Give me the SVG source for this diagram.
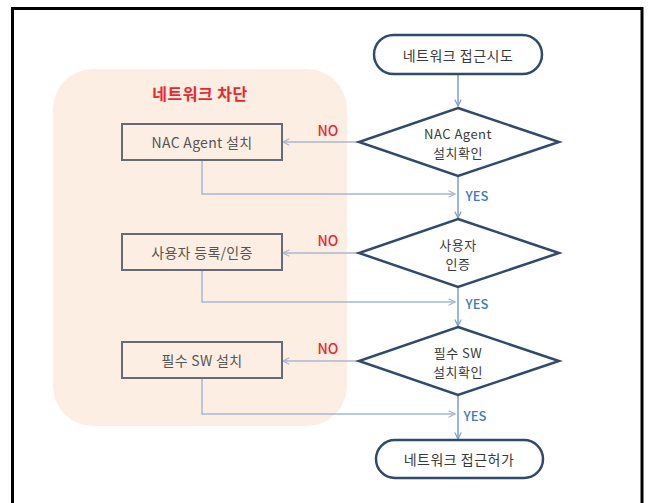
<svg xmlns="http://www.w3.org/2000/svg" width="649" height="503" viewBox="0 0 649 503">
<style>
.t{font-family:"Noto Sans CJK KR","Noto Sans",sans-serif;text-anchor:middle;dominant-baseline:central}
.term{fill:#fff;stroke:#2f4a6e;stroke-width:2.5}
.dia{fill:#fff;stroke:#2f4a6e;stroke-width:2.5}
.box{fill:none;stroke:#676b78;stroke-width:2}
.node{font-size:14px;fill:#3a3a3a;letter-spacing:0.5px}
.dt{font-size:13px;fill:#3a3a3a;letter-spacing:0.5px}
.boxt{font-size:14px;fill:#555;letter-spacing:0.3px}
.no{font-size:14px;fill:#e52a2f;font-weight:500}
.yes{font-size:13px;fill:#3b7cc4;font-weight:500}
.main{fill:none;stroke:#7f9ccb;stroke-width:1.5}
.ret{fill:none;stroke:#a7b7d3;stroke-width:1.5}
</style>
<defs>
<marker id="ah" viewBox="0 0 10 10" refX="9" refY="5" markerWidth="8" markerHeight="8" markerUnits="userSpaceOnUse" orient="auto">
<path d="M1,1 L9,5 L1,9" fill="none" stroke="#7f9ccb" stroke-width="1.5"/>
</marker>
<marker id="ah2" viewBox="0 0 10 10" refX="9" refY="5" markerWidth="8" markerHeight="8" markerUnits="userSpaceOnUse" orient="auto">
<path d="M1,1 L9,5 L1,9" fill="none" stroke="#a7b7d3" stroke-width="1.5"/>
</marker>
</defs>
<rect width="649" height="503" fill="#fff"/>
<path d="M12.5,503 V8.5 H642 V503" fill="none" stroke="#000" stroke-width="3"/>
<g id="block">
<rect x="53" y="69" width="294" height="357" rx="40" fill="#fdeee3"/>
<text class="t" x="200" y="93" font-size="16" font-weight="bold" fill="#e52a2f" letter-spacing="0.5">네트워크 차단</text>
</g>
<g id="connectors">
<path class="main" d="M458,74 V106" marker-end="url(#ah)"/>
<path class="main" d="M458,176 V218" marker-end="url(#ah)"/>
<path class="main" d="M458,287 V326" marker-end="url(#ah)"/>
<path class="main" d="M458,395 V439" marker-end="url(#ah)"/>
<path class="ret" d="M359,142 H283" marker-end="url(#ah2)"/>
<path class="ret" d="M359,253 H283" marker-end="url(#ah2)"/>
<path class="ret" d="M359,361 H283" marker-end="url(#ah2)"/>
<path class="ret" d="M202,160 V194 H455" marker-end="url(#ah2)"/>
<path class="ret" d="M202,270 V302 H455" marker-end="url(#ah2)"/>
<path class="ret" d="M202,378 V414 H455" marker-end="url(#ah2)"/>
<text class="t no" x="328" y="130">NO</text>
<text class="t no" x="328" y="240">NO</text>
<text class="t no" x="328" y="348">NO</text>
<text class="t yes" x="477" y="195">YES</text>
<text class="t yes" x="477" y="303">YES</text>
<text class="t yes" x="475" y="415">YES</text>
</g>
<g id="start">
<rect class="term" x="374" y="35" width="168" height="39" rx="19.5"/>
<text class="t node" x="458" y="54.5">네트워크 접근시도</text>
</g>
<g id="d1">
<polygon class="dia" points="458,108 559,142 458,176 359,142"/>
<text class="t dt" x="458" y="133">NAC Agent</text>
<text class="t dt" x="458" y="152">설치확인</text>
</g>
<g id="r1">
<rect class="box" x="122" y="124" width="160" height="36"/>
<text class="t boxt" x="202" y="142">NAC Agent 설치</text>
</g>
<g id="d2">
<polygon class="dia" points="458,219 559,253 458,287 359,253"/>
<text class="t dt" x="458" y="244">사용자</text>
<text class="t dt" x="458" y="263">인증</text>
</g>
<g id="r2">
<rect class="box" x="122" y="234" width="160" height="36"/>
<text class="t boxt" x="202" y="252">사용자 등록/인증</text>
</g>
<g id="d3">
<polygon class="dia" points="458,327 559,361 458,395 359,361"/>
<text class="t dt" x="458" y="352">필수 SW</text>
<text class="t dt" x="458" y="371">설치확인</text>
</g>
<g id="r3">
<rect class="box" x="122" y="342" width="160" height="36"/>
<text class="t boxt" x="202" y="360">필수 SW 설치</text>
</g>
<g id="end">
<rect class="term" x="376" y="440" width="167" height="38" rx="19"/>
<text class="t node" x="459" y="459">네트워크 접근허가</text>
</g>
</svg>
